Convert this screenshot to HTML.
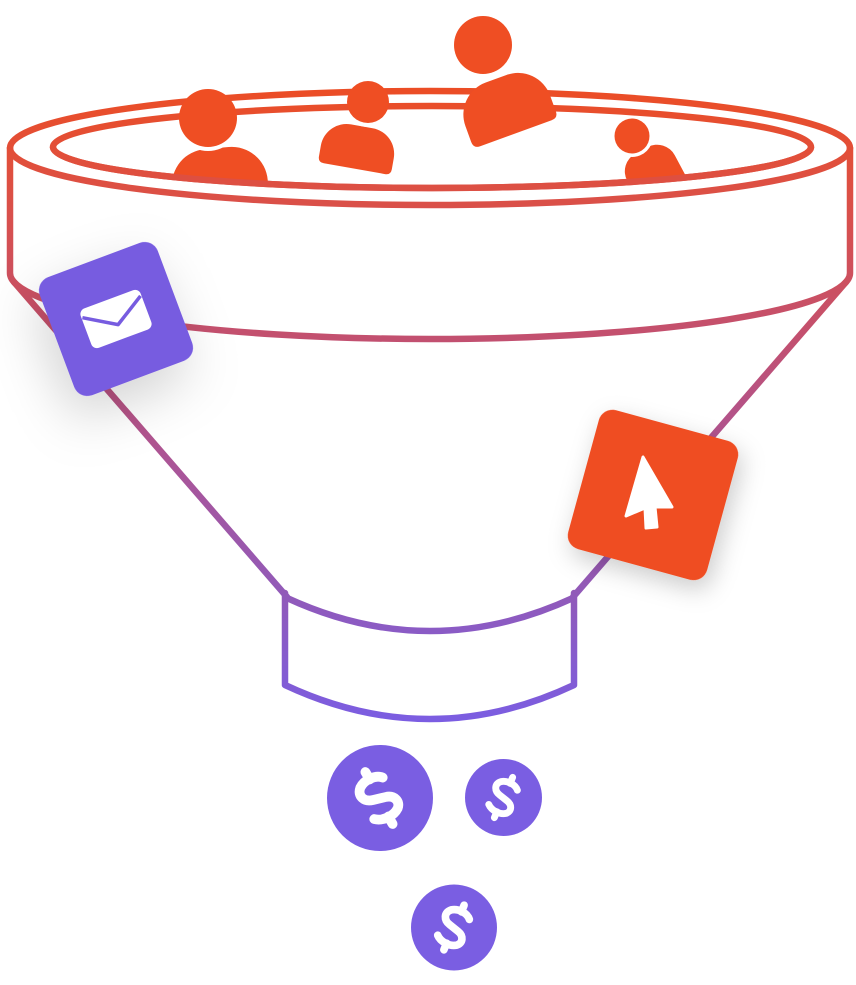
<!DOCTYPE html>
<html><head><meta charset="utf-8"><style>
html,body{margin:0;padding:0;background:#fff;}
svg{display:block;}
</style></head><body>
<svg width="856" height="985" viewBox="0 0 856 985" xmlns="http://www.w3.org/2000/svg">
<defs>
<linearGradient id="g" gradientUnits="userSpaceOnUse" x1="0" y1="85" x2="0" y2="722">
<stop offset="0" stop-color="#ec4d24"/>
<stop offset="0.2" stop-color="#d9504b"/>
<stop offset="0.4" stop-color="#c25070"/>
<stop offset="0.6" stop-color="#aa5598"/>
<stop offset="0.8" stop-color="#915ab9"/>
<stop offset="1" stop-color="#7b5de2"/>
</linearGradient>
<filter id="sh1" x="-80%" y="-80%" width="260%" height="260%">
<feDropShadow dx="-12" dy="18" stdDeviation="26" flood-color="#000" flood-opacity="0.17"/>
</filter>
<filter id="sh2" x="-60%" y="-60%" width="220%" height="220%">
<feDropShadow dx="6" dy="8" stdDeviation="12" flood-color="#000" flood-opacity="0.2"/>
</filter>
<clipPath id="inside">
<rect x="0" y="0" width="856" height="147"/>
<ellipse cx="432" cy="147" rx="379" ry="41"/>
</clipPath>
<mask id="m1"><rect x="0" y="0" width="856" height="985" fill="#fff"/><circle cx="208" cy="118" r="33" fill="#000"/></mask>
<mask id="m2"><rect x="0" y="0" width="856" height="985" fill="#fff"/><circle cx="368" cy="102" r="25" fill="#000"/></mask>
<mask id="m3"><rect x="0" y="0" width="856" height="985" fill="#fff"/><circle cx="483" cy="45" r="34" fill="#000"/></mask>
<mask id="m4"><rect x="0" y="0" width="856" height="985" fill="#fff"/><circle cx="632" cy="136" r="21" fill="#000"/></mask>
<g id="dollar" fill="none" stroke="#fff" stroke-linecap="round" stroke-linejoin="round">
<path d="M 11,-13 C 7,-18 -3,-19 -9,-15 C -15,-10 -12,-3 -5,-1 L 5,2 C 12,4 14,11 9,15 C 3,19 -7,18 -12,13"/>
<path d="M 1,-17 L 1,-24 M -1,17 L -1,24"/>
</g>
</defs>

<!-- funnel outline -->
<g fill="none" stroke="url(#g)" stroke-width="6.5" stroke-linecap="round" stroke-linejoin="round">
<ellipse cx="430" cy="148" rx="420" ry="57"/>
<ellipse cx="432" cy="147" rx="379" ry="41"/>
<path d="M10,148 L10,273 A420,66 0 0 0 850,273 L850,148"/>
<path d="M14,282 L287,597"/>
<path d="M846,282 L573,597"/>
<path d="M287,598 Q430,664 573,598"/>
<path d="M285,593 L285,685 Q430,753 574,685 L574,593"/>
</g>

<!-- people -->
<g fill="#ef4e23">
<g clip-path="url(#inside)">
<g mask="url(#m1)"><g transform="translate(219,174) rotate(-5)"><path d="M-48,30 L-48,10 A36,36 0 0 1 -12,-26 L12,-26 A36,36 0 0 1 48,10 L48,30 Z"/></g></g>
<g mask="url(#m4)"><g transform="translate(651,168) rotate(-28)"><path d="M-27,24 L-27,0 A20,20 0 0 1 -7,-20 L7,-20 A20,20 0 0 1 27,0 L27,24 Z"/></g></g>
</g>
<circle cx="208" cy="118" r="29"/>
<circle cx="632" cy="136" r="17.5"/>
<g mask="url(#m2)"><g transform="translate(358,148) rotate(10)"><path d="M-37,15 L-37,4 A26,26 0 0 1 -11,-22 L11,-22 A26,26 0 0 1 37,4 L37,15 Q37,21 31,21 L-31,21 Q-37,21 -37,15 Z"/></g></g>
<circle cx="368" cy="102" r="21"/>
<g mask="url(#m3)"><g transform="translate(506,106) rotate(-20)"><path d="M-45,22 L-45,5 A34,34 0 0 1 -11,-29 L11,-29 A34,34 0 0 1 45,5 L45,22 Q45,29 38,29 L-38,29 Q-45,29 -45,22 Z"/></g></g>
<circle cx="483" cy="45" r="29"/>
</g>
<!-- front of inner rim redrawn on top -->
<path d="M53,147 A379,41 0 0 0 811,147" fill="none" stroke="url(#g)" stroke-width="6.5"/>

<!-- email icon -->
<g transform="translate(116,319) rotate(-20.5)">
<rect x="-63" y="-63" width="126" height="126" rx="14" fill="#775ce0" filter="url(#sh1)"/>
<rect x="-32" y="-21" width="64" height="42" rx="6" fill="#fff"/>
<path d="M-31,-13 L0,6 L31,-13" fill="none" stroke="#775ce0" stroke-width="3.5" stroke-linejoin="round"/>
</g>

<!-- cursor icon -->
<g transform="translate(653,495) rotate(15.3)">
<rect x="-72" y="-72" width="144" height="144" rx="14" fill="#ef4e23" filter="url(#sh2)"/>
</g>
<path d="M643,457 L626,516 L645,508 L646,528 L657,527 L655,507 L672,507 Z" fill="#fff" stroke="#fff" stroke-width="3" stroke-linejoin="round"/>

<!-- coins -->
<circle cx="380" cy="798" r="53" fill="#7a5ee2"/>
<use href="#dollar" transform="translate(379,798) rotate(-30) scale(1.22)" stroke-width="8"/>
<circle cx="503.5" cy="797.5" r="38.5" fill="#7a5ee2"/>
<use href="#dollar" transform="translate(503.5,797.5) rotate(22) scale(0.92)" stroke-width="7.5"/>
<circle cx="454" cy="927.5" r="43" fill="#7a5ee2"/>
<use href="#dollar" transform="translate(454,927.5) rotate(22) scale(1.02)" stroke-width="7.5"/>
</svg>
</body></html>
